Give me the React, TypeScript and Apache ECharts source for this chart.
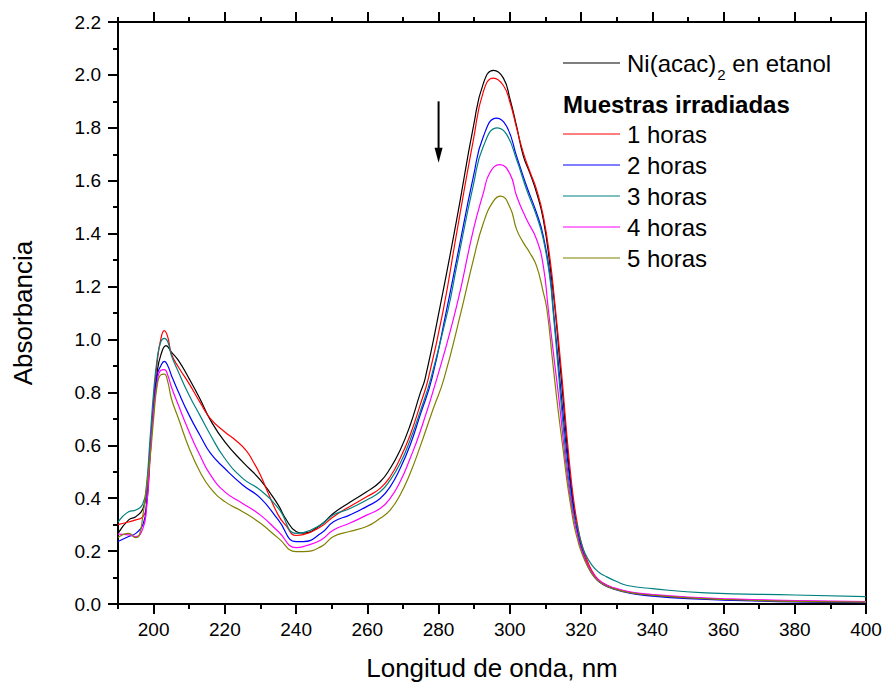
import React, { useEffect, useRef } from 'react';
import * as echarts from 'echarts';

const FONT = "'Liberation Sans', Arial, sans-serif";

// Axis ticks (nm)
const xMajorTicks = [200, 220, 240, 260, 280, 300, 320, 340, 360, 380, 400];
const xMinorTicks = [190, 210, 230, 250, 270, 290, 310, 330, 350, 370, 390];

// Ni(acac)2 en etanol (black)
const niX = [190, 193, 195, 197, 198, 199, 200, 201, 202, 203.5, 205, 207, 210, 213, 216, 220, 225, 230, 235, 237, 240, 242, 247, 250.5, 255, 259.8, 263.6, 266.4, 269.2, 272, 274.8, 276.2, 280.5, 285.1, 289.8, 292.6, 295.4, 298.2, 300.1, 301.9, 303.8, 305.6, 307.5, 309.4, 311.3, 312.7, 314, 315, 316, 317, 318, 319, 320, 322, 324, 326, 329, 334, 340, 350, 360, 380, 400];
const niY = [0.267, 0.318, 0.33, 0.36, 0.43, 0.59, 0.74, 0.876, 0.94, 0.977, 0.952, 0.92, 0.851, 0.776, 0.694, 0.613, 0.537, 0.468, 0.374, 0.324, 0.274, 0.268, 0.3, 0.343, 0.384, 0.424, 0.462, 0.512, 0.581, 0.675, 0.795, 0.851, 1.13, 1.454, 1.806, 1.969, 2.017, 1.988, 1.906, 1.806, 1.693, 1.63, 1.555, 1.454, 1.278, 1.115, 0.92, 0.77, 0.61, 0.47, 0.36, 0.28, 0.22, 0.145, 0.1, 0.078, 0.06, 0.043, 0.033, 0.024, 0.018, 0.011, 0.007];

// 1 horas (red)
const h1X = [190, 193, 195, 197, 198, 199, 200, 201, 202, 203, 204, 205, 207, 210, 213, 216, 220, 223, 226, 228, 230, 232, 235, 237, 240, 242, 247, 250.5, 255, 259.8, 263.6, 266.4, 269.2, 272, 274.8, 277.1, 281.3, 285.1, 289.8, 292.6, 295.4, 298.2, 300.1, 301.9, 303.8, 305.6, 307.5, 309.4, 311.3, 312.7, 314, 315, 316, 317, 318, 319, 320, 322, 324, 326, 329, 334, 340, 350, 360, 380, 400];
const h1Y = [0.3, 0.31, 0.318, 0.33, 0.37, 0.55, 0.776, 0.914, 1.0, 1.033, 1.008, 0.945, 0.895, 0.832, 0.763, 0.7, 0.65, 0.619, 0.58, 0.537, 0.487, 0.424, 0.336, 0.299, 0.259, 0.262, 0.293, 0.33, 0.368, 0.405, 0.437, 0.481, 0.55, 0.638, 0.751, 0.851, 1.11, 1.404, 1.756, 1.938, 1.988, 1.96, 1.894, 1.8, 1.705, 1.636, 1.567, 1.467, 1.303, 1.128, 0.95, 0.8, 0.64, 0.5, 0.385, 0.3, 0.235, 0.155, 0.105, 0.08, 0.06, 0.042, 0.033, 0.023, 0.017, 0.01, 0.006];

// 2 horas (blue)
const h2X = [190, 193, 195, 197, 198, 199, 200, 201, 202, 203, 204, 205, 207, 210, 213, 216, 220, 225, 230, 235, 240, 242, 247, 250.5, 255, 259.8, 263.6, 266.4, 269.2, 272, 274.8, 278.1, 282.3, 285.1, 289.8, 292.6, 296.3, 299.1, 301.9, 304.7, 307.5, 309.4, 311.3, 312.2, 313.5, 315, 316, 317, 318, 319, 320, 322, 324, 326, 329, 334, 340, 350, 360, 380, 400];
const h2Y = [0.236, 0.255, 0.267, 0.3, 0.38, 0.575, 0.738, 0.864, 0.9, 0.917, 0.9, 0.864, 0.8, 0.713, 0.638, 0.569, 0.512, 0.45, 0.4, 0.318, 0.236, 0.236, 0.267, 0.311, 0.336, 0.368, 0.399, 0.443, 0.512, 0.6, 0.713, 0.851, 1.115, 1.303, 1.617, 1.768, 1.837, 1.806, 1.693, 1.58, 1.479, 1.391, 1.241, 1.115, 0.93, 0.71, 0.57, 0.45, 0.35, 0.27, 0.215, 0.14, 0.098, 0.075, 0.057, 0.04, 0.03, 0.02, 0.015, 0.008, 0.005];

// 3 horas (teal)
const h3X = [190, 193, 195, 197, 198, 199, 200, 201, 202, 203, 204, 205, 207, 210, 213, 216, 220, 225, 230, 235, 240, 242, 247, 250.5, 255, 259.8, 263.6, 266.4, 269.2, 272, 274.8, 277.8, 282.7, 285.1, 289.8, 292.6, 296.5, 299.1, 301.9, 304.7, 307.5, 309.4, 311.3, 312.1, 313, 314, 315, 316, 317, 318, 319, 320, 321, 323, 325, 327, 330, 333, 340, 355, 380, 400];
const h3Y = [0.309, 0.349, 0.355, 0.38, 0.45, 0.625, 0.8, 0.927, 0.99, 1.004, 0.99, 0.939, 0.876, 0.788, 0.713, 0.638, 0.55, 0.475, 0.43, 0.362, 0.267, 0.27, 0.3, 0.337, 0.36, 0.393, 0.424, 0.468, 0.531, 0.619, 0.726, 0.851, 1.115, 1.278, 1.586, 1.731, 1.8, 1.775, 1.68, 1.567, 1.467, 1.379, 1.228, 1.115, 0.98, 0.82, 0.67, 0.53, 0.42, 0.335, 0.29, 0.235, 0.195, 0.148, 0.12, 0.104, 0.085, 0.07, 0.058, 0.042, 0.034, 0.028];

// 4 horas (magenta)
const h4X = [190, 193, 195, 197, 198, 199, 200, 201, 202, 203, 204, 205, 207, 210, 213, 216, 220, 225, 230, 235, 240, 242, 247, 250.5, 255, 259.8, 263.6, 266.4, 269.2, 272, 274.8, 279.5, 285.1, 289.8, 292.6, 294.4, 297.2, 300.1, 301.9, 304.7, 307.5, 309.4, 310.8, 312.5, 314, 315, 316, 317, 318, 319, 320, 322, 324, 326, 329, 334, 340, 350, 360, 380, 400];
const h4Y = [0.264, 0.261, 0.255, 0.286, 0.36, 0.562, 0.726, 0.839, 0.883, 0.886, 0.864, 0.82, 0.75, 0.65, 0.562, 0.487, 0.424, 0.38, 0.336, 0.274, 0.213, 0.217, 0.242, 0.28, 0.305, 0.336, 0.361, 0.399, 0.462, 0.55, 0.65, 0.851, 1.128, 1.416, 1.555, 1.63, 1.661, 1.624, 1.542, 1.454, 1.379, 1.278, 1.115, 0.92, 0.75, 0.62, 0.5, 0.4, 0.32, 0.26, 0.21, 0.145, 0.103, 0.08, 0.062, 0.045, 0.036, 0.026, 0.02, 0.013, 0.009];

// 5 horas (olive)
const h5X = [190, 193, 195, 196, 197, 198, 199, 200, 201, 202, 203, 204, 205, 207, 210, 213, 216, 220, 225, 230, 235, 240, 242, 247, 250.5, 255, 259.8, 263.6, 266.4, 269.2, 272, 274.8, 278.5, 281.5, 286.5, 289.8, 292.6, 295.4, 297.4, 300.1, 301.9, 303.8, 305.6, 307.5, 309.4, 310.4, 312, 313.5, 315, 316, 317, 318, 319, 320, 322, 324, 326, 329, 334, 340, 350, 360, 380, 400];
const h5Y = [0.251, 0.267, 0.251, 0.261, 0.336, 0.44, 0.55, 0.7, 0.826, 0.866, 0.869, 0.839, 0.776, 0.7, 0.588, 0.5, 0.437, 0.387, 0.349, 0.305, 0.249, 0.198, 0.198, 0.217, 0.255, 0.274, 0.293, 0.324, 0.355, 0.412, 0.493, 0.594, 0.738, 0.851, 1.115, 1.303, 1.441, 1.523, 1.542, 1.498, 1.416, 1.366, 1.328, 1.278, 1.178, 1.115, 0.92, 0.74, 0.58, 0.47, 0.38, 0.3, 0.245, 0.2, 0.138, 0.098, 0.076, 0.058, 0.042, 0.033, 0.023, 0.017, 0.01, 0.007];

const seriesDefs = [
  { name: 'Ni(acac)2 en etanol', x: niX, y: niY, color: '#000000' },
  { name: '1 horas', x: h1X, y: h1Y, color: '#FF0000' },
  { name: '2 horas', x: h2X, y: h2Y, color: '#0000FF' },
  { name: '3 horas', x: h3X, y: h3Y, color: '#008080' },
  { name: '4 horas', x: h4X, y: h4Y, color: '#FF00FF' },
  { name: '5 horas', x: h5X, y: h5Y, color: '#808000' },
];

// Arrow annotation (data coords)
const arrowX = 280;
const arrowFrom = 1.9;
const arrowTo = 1.668;

function measure(text: string, font: string): number {
  const c = document.createElement('canvas').getContext('2d');
  if (!c) return text.length * 12;
  c.font = font;
  return c.measureText(text).width;
}

export default function App() {
  const ref = useRef<HTMLDivElement>(null);
  useEffect(() => {
    if (!ref.current) return;
    const chart = echarts.init(ref.current, undefined, { renderer: 'svg' });
    const axisColor = '#000';
    const tickStyle = { color: axisColor, width: 2 };
    const option: any = {
      animation: false,
      backgroundColor: '#ffffff',
      grid: { left: 118, right: 20, top: 22, bottom: 80, containLabel: false },
      xAxis: [
        {
          type: 'value', min: 190, max: 400, position: 'bottom',
          axisLine: { show: true, onZero: false, lineStyle: { color: axisColor, width: 2 } },
          axisTick: { show: true, inside: false, length: 10, lineStyle: tickStyle, customValues: xMajorTicks },
          axisLabel: { customValues: xMajorTicks, fontSize: 19, color: '#000', margin: 16, fontFamily: FONT },
          splitLine: { show: false },
          name: 'Longitud de onda, nm', nameLocation: 'middle', nameGap: 51,
          nameTextStyle: { fontSize: 26, color: '#000', fontFamily: FONT },
        },
        {
          type: 'value', min: 190, max: 400, position: 'bottom',
          axisLine: { show: false, onZero: false },
          axisTick: { show: true, inside: false, length: 5, lineStyle: tickStyle, customValues: xMinorTicks },
          axisLabel: { show: false },
          splitLine: { show: false },
        },
        {
          type: 'value', min: 190, max: 400, position: 'top',
          axisLine: { show: true, onZero: false, lineStyle: { color: axisColor, width: 2 } },
          axisTick: { show: true, inside: false, length: 10, lineStyle: tickStyle, customValues: xMajorTicks },
          axisLabel: { show: false },
          splitLine: { show: false },
        },
        {
          type: 'value', min: 190, max: 400, position: 'top',
          axisLine: { show: false, onZero: false },
          axisTick: { show: true, inside: false, length: 5, lineStyle: tickStyle, customValues: xMinorTicks },
          axisLabel: { show: false },
          splitLine: { show: false },
        },
      ],
      yAxis: [
        {
          type: 'value', min: 0, max: 2.2, interval: 0.2, position: 'left',
          axisLine: { show: true, onZero: false, lineStyle: { color: axisColor, width: 2 } },
          axisTick: { show: true, inside: false, length: 10, lineStyle: tickStyle },
          minorTick: { show: true, splitNumber: 2, length: 5, lineStyle: tickStyle },
          axisLabel: { fontSize: 19, color: '#000', margin: 17, fontFamily: FONT, formatter: (v: number) => v.toFixed(1) },
          splitLine: { show: false },
          name: 'Absorbancia', nameLocation: 'middle', nameGap: 82,
          nameTextStyle: { fontSize: 26, color: '#000', fontFamily: FONT },
        },
        {
          type: 'value', min: 0, max: 2.2, interval: 0.2, position: 'right',
          axisLine: { show: true, onZero: false, lineStyle: { color: axisColor, width: 2 } },
          axisTick: { show: false },
          axisLabel: { show: false },
          splitLine: { show: false },
        },
      ],
      series: seriesDefs.map((s) => ({
        name: s.name,
        type: 'line',
        xAxisIndex: 0,
        yAxisIndex: 0,
        data: s.x.map((v, i) => [v, s.y[i]]),
        showSymbol: false,
        symbol: 'none',
        smooth: 0.5,
        lineStyle: { color: s.color, width: 1.2 },
        itemStyle: { color: s.color },
        z: 3,
      })),
    };
    chart.setOption(option);

    // Legend (custom, to allow subscript)
    const legendFont = 24;
    const lineX0 = 563;
    const lineX1 = 620;
    const textX = 627;
    const rowsY = [63, 134, 165, 196, 227, 258];
    const titleY = 104;
    const fontStr = `${legendFont}px 'Liberation Sans', Arial, sans-serif`;
    const subFont = `15px 'Liberation Sans', Arial, sans-serif`;
    const w1 = measure('Ni(acac)', fontStr);
    const w2 = measure('2', subFont);
    const graphics: any[] = [];
    seriesDefs.forEach((s, i) => {
      const y = rowsY[i];
      graphics.push({
        type: 'line', shape: { x1: lineX0, y1: y, x2: lineX1, y2: y },
        style: { stroke: s.color, lineWidth: 1.2 }, silent: true,
      });
      if (i === 0) {
        graphics.push({ type: 'text', x: textX, y, style: { text: 'Ni(acac)', font: fontStr, fill: '#000', textVerticalAlign: 'middle', textAlign: 'left' } });
        graphics.push({ type: 'text', x: textX + w1 + 1, y: y + 11, style: { text: '2', font: subFont, fill: '#000', textVerticalAlign: 'middle', textAlign: 'left' } });
        graphics.push({ type: 'text', x: textX + w1 + 1 + w2, y, style: { text: ' en etanol', font: fontStr, fill: '#000', textVerticalAlign: 'middle', textAlign: 'left' } });
      } else {
        graphics.push({ type: 'text', x: textX, y, style: { text: s.name, font: fontStr, fill: '#000', textVerticalAlign: 'middle', textAlign: 'left' } });
      }
    });
    graphics.push({ type: 'text', x: lineX0, y: titleY, style: { text: 'Muestras irradiadas', font: `bold ${legendFont}px 'Liberation Sans', Arial, sans-serif`, fill: '#000', textVerticalAlign: 'middle', textAlign: 'left' } });

    // Arrow
    const p0 = chart.convertToPixel({ xAxisIndex: 0, yAxisIndex: 0 }, [arrowX, arrowFrom]) as number[];
    const p1 = chart.convertToPixel({ xAxisIndex: 0, yAxisIndex: 0 }, [arrowX, arrowTo]) as number[];
    if (p0 && p1) {
      graphics.push({ type: 'line', shape: { x1: p0[0], y1: p0[1], x2: p1[0], y2: p1[1] - 12 }, style: { stroke: '#000', lineWidth: 2 } });
      graphics.push({ type: 'polygon', shape: { points: [[p1[0] - 4, p1[1] - 15], [p1[0] + 4, p1[1] - 15], [p1[0], p1[1]]] }, style: { fill: '#000' } });
    }
    chart.setOption({ graphic: graphics });

    return () => chart.dispose();
  }, []);
  return <div ref={ref} style={{ position: 'fixed', left: 0, top: 0, width: 886, height: 686, background: '#fff' }} />;
}
